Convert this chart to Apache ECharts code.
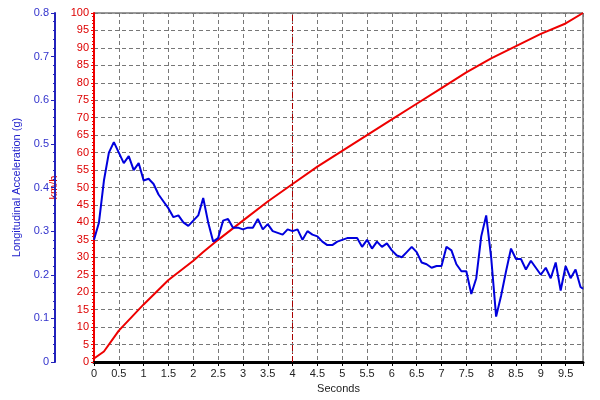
<!DOCTYPE html>
<html><head><meta charset="utf-8">
<script src="https://cdn.jsdelivr.net/npm/echarts@6/dist/echarts.min.js"></script>
<style>html,body{margin:0;padding:0;background:#fff}#c{width:600px;height:400px}</style>
</head><body><div id="c"></div>
<script>
var accelTime = [0,0.1,0.2,0.3,0.4,0.5,0.6,0.7,0.8,0.9,1.0,1.1,1.2,1.3,1.4,1.5,1.6,1.7,1.8,1.9,2.0,2.1,2.2,2.3,2.4,2.5,2.6,2.7,2.8,2.9,3.0,3.1,3.2,3.3,3.4,3.5,3.6,3.7,3.8,3.9,4.0,4.1,4.2,4.3,4.4,4.5,4.6,4.7,4.8,4.9,5.0,5.1,5.2,5.3,5.4,5.5,5.6,5.7,5.8,5.9,6.0,6.1,6.2,6.3,6.4,6.5,6.6,6.7,6.8,6.9,7.0,7.1,7.2,7.3,7.4,7.5,7.6,7.7,7.8,7.9,8.0,8.1,8.2,8.3,8.4,8.5,8.6,8.7,8.8,8.9,9.0,9.1,9.2,9.3,9.4,9.5,9.6,9.7,9.8,9.85];
var accelG = [0.280,0.320,0.416,0.480,0.504,0.480,0.456,0.472,0.440,0.456,0.416,0.420,0.408,0.384,0.368,0.352,0.332,0.336,0.320,0.312,0.324,0.336,0.376,0.320,0.276,0.284,0.324,0.328,0.308,0.308,0.304,0.308,0.308,0.328,0.304,0.316,0.300,0.296,0.292,0.304,0.300,0.304,0.280,0.300,0.292,0.288,0.276,0.268,0.268,0.276,0.280,0.284,0.284,0.284,0.264,0.280,0.260,0.276,0.264,0.272,0.256,0.244,0.240,0.252,0.264,0.252,0.228,0.224,0.216,0.220,0.220,0.264,0.256,0.224,0.208,0.208,0.156,0.192,0.288,0.336,0.240,0.104,0.152,0.208,0.260,0.236,0.236,0.212,0.232,0.216,0.200,0.216,0.192,0.228,0.164,0.220,0.192,0.212,0.172,0.168];
var speedTime = [0,0.2,0.5,1.0,1.5,2.0,2.2,2.5,3.0,3.5,4.0,4.5,5.0,5.5,6.0,6.5,7.0,7.5,8.0,8.5,9.0,9.5,9.85];
var speedKmh = [1,3,9,16.5,23.5,29,31.5,35,40.5,46,51,56,60.5,65,69.5,74,78.5,83,87,90.5,94,97,100];

var accelData = accelTime.map(function(t,i){return [t,accelG[i]];});
var speedData = speedTime.map(function(t,i){return [t,speedKmh[i]];});
var chart = echarts.init(document.getElementById('c'));
chart.setOption({
  animation:false,
  backgroundColor:'#fff',
  grid:{left:94,right:17,top:13,bottom:38,show:true,borderColor:'#333',borderWidth:1},
  xAxis:{type:'value',min:0,max:9.85,interval:0.5,name:'Seconds',nameLocation:'middle',nameGap:16,
    nameTextStyle:{color:'#222',fontSize:11,fontFamily:'Liberation Sans'},
    axisLine:{lineStyle:{color:'#000',width:3}},axisTick:{show:true,length:4,lineStyle:{color:'#000'}},
    minorTick:{show:true,splitNumber:5,length:2,lineStyle:{color:'#000'}},
    axisLabel:{color:'#222',fontSize:11,fontFamily:'Liberation Sans',margin:6,formatter:function(v){return Math.abs(v-9.85)<1e-6?'':String(v);}},
    splitLine:{show:true,lineStyle:{color:'#777',type:[4,3],width:1}}},
  yAxis:[
    {type:'value',position:'left',offset:0,min:0,max:100,interval:5,name:'km/h',nameLocation:'middle',nameGap:28,
     nameTextStyle:{color:'#d00',fontSize:11,fontFamily:'Liberation Sans'},
     axisLine:{show:true,lineStyle:{color:'#e00',width:2}},axisTick:{show:true,length:3,lineStyle:{color:'#e00'}},
     minorTick:{show:true,splitNumber:5,length:2,lineStyle:{color:'#e00'}},
     axisLabel:{color:'#d00',fontSize:11,fontFamily:'Liberation Sans',margin:5},
     splitLine:{show:true,lineStyle:{color:'#777',type:[4,3],width:1}}},
    {type:'value',position:'left',offset:39,min:0,max:0.8,interval:0.1,name:'Longitudinal Acceleration (g)',nameLocation:'middle',nameGap:32,
     nameTextStyle:{color:'#22c',fontSize:11,fontFamily:'Liberation Sans'},
     axisLine:{show:true,lineStyle:{color:'#22b',width:2}},axisTick:{show:true,length:4,lineStyle:{color:'#22b'}},
     minorTick:{show:true,splitNumber:5,length:2,lineStyle:{color:'#22b'}},
     axisLabel:{color:'#33c',fontSize:11,fontFamily:'Liberation Sans',margin:6,formatter:function(v){return v===0?'0':v.toFixed(1);}},
     splitLine:{show:false}}
  ],
  series:[
    {type:'line',yAxisIndex:0,data:speedData,showSymbol:false,lineStyle:{color:'#e00',width:2},
     markLine:{silent:true,symbol:'none',label:{show:false},lineStyle:{color:'#a00',type:[6,2,1,2],width:1},data:[{xAxis:4}]}},
    {type:'line',yAxisIndex:1,data:accelData,showSymbol:false,lineStyle:{color:'#00d',width:2}}
  ]
});
</script></body></html>
